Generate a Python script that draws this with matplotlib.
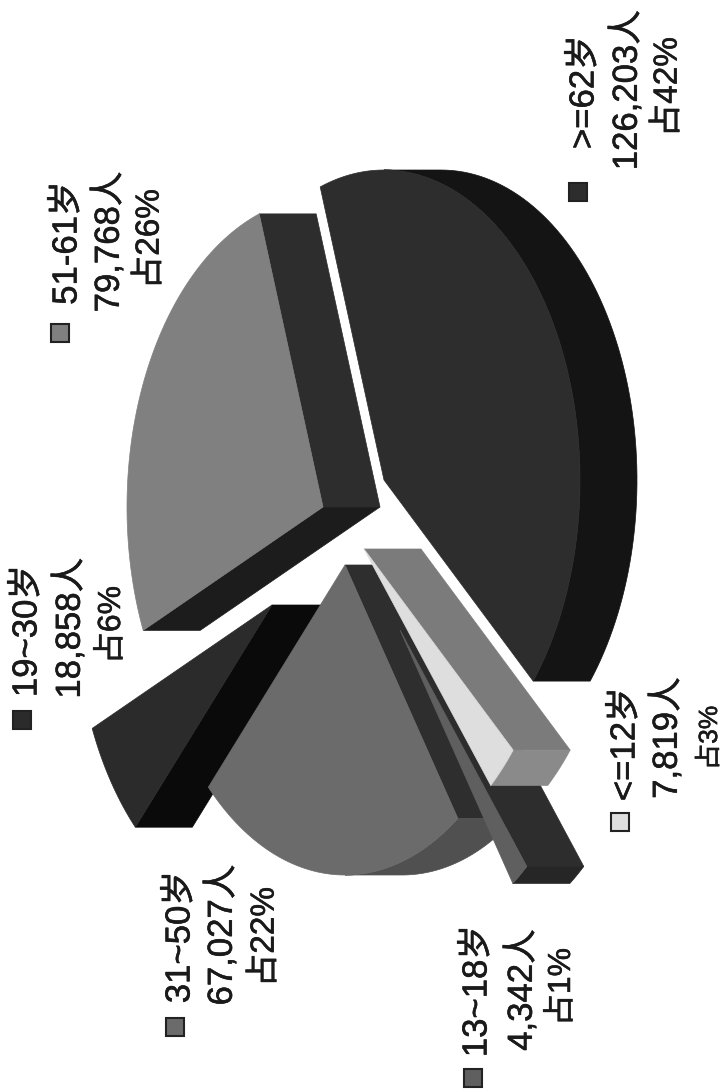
import numpy as np
import matplotlib
matplotlib.use("Agg")
import matplotlib.pyplot as plt
import matplotlib.patheffects as pe
from matplotlib.patches import Polygon, Rectangle

# dane
groups = [">=62岁", "<=12岁", "13~18岁", "31~50岁", "19~30岁", "51-61岁"]
people = [126203, 7819, 4342, 67027, 18858, 79768]
people_text = ["126,203人", "7,819人", "4,342人", "67,027人", "18,858人", "79,768人"]
share_text = ["占42%", "占3%", "占1%", "占22%", "占6%", "占26%"]

# wyglad kawalkow
tops = ["#2d2d2d", "#dedede", "#5f5f5f", "#6b6b6b", "#2b2b2b", "#808080"]
start_faces = ["#2d2d2d", "#7b7b7b", "#2d2d2d", "#2e2e2e", "#0a0a0a", "#1c1c1c"]
end_faces = ["#2d2d2d", "#7b7b7b", "#2d2d2d", "#2e2e2e", "#0a0a0a", "#2d2d2d"]
rims = ["#141414", "#8a8a8a", "#262626", "#505050", "#0a0a0a", "#1c1c1c"]
apex_x = [384, 364, 400, 345, 272, 323]
apex_y = [480, 549, 630, 565, 605, 507]
draw_order = [0, 5, 4, 3, 2, 1]

# polozenie legendy: kwadrat, trzy linie tekstu
square_xy = [(578, 192), (620, 822), (473, 1078), (175, 1027), (22, 720), (60, 333)]
line1_xy = [(584, 92), (625, 744), (477, 991), (180, 937), (27, 631), (67, 243)]
line2_xy = [(627, 90), (667, 738), (522, 990), (222, 935), (70, 628), (109, 242)]
line3_xy = [(668, 87), (710, 738), (562, 987), (265, 937), (112, 625), (150, 239)]
share_size = [24, 19, 23, 24, 23, 24]

RX = 196
RY = 310
DEPTH = 57
START = -109

font = ["Liberation Sans", "Noto Sans CJK SC", "DejaVu Sans"]
heavy = [pe.withStroke(linewidth=0.4, foreground="#1a1a1a")]


def pt(cx, cy, t):
    return cx + RX * np.cos(np.radians(t)), cy + RY * np.sin(np.radians(t))


fig = plt.figure(figsize=(7.28, 10.92), dpi=100)
ax = fig.add_axes([0, 0, 1, 1])
ax.set_xlim(0, 728)
ax.set_ylim(1092, 0)
ax.axis("off")

sweep = np.array(people) / sum(people) * 360
edges = START + np.concatenate([[0], np.cumsum(sweep)])

for i in draw_order:
    cx, cy = apex_x[i], apex_y[i]
    t0, t1 = edges[i], edges[i + 1]
    x0, y0 = pt(cx, cy, t0)
    x1, y1 = pt(cx, cy, t1)

    # sciany ciecia
    if np.sin(np.radians(t0)) > 0:
        ax.add_patch(Polygon([(cx, cy), (x0, y0), (x0 + DEPTH, y0), (cx + DEPTH, cy)],
                             fc=start_faces[i], ec=start_faces[i], lw=0.5))
    if np.sin(np.radians(t1)) < 0:
        ax.add_patch(Polygon([(cx, cy), (x1, y1), (x1 + DEPTH, y1), (cx + DEPTH, cy)],
                             fc=end_faces[i], ec=end_faces[i], lw=0.5))

    # bok, tylko czesc widoczna z prawej
    a = max(t0, -90)
    b = min(t1, 90)
    if b > a:
        ts = np.linspace(a, b, 80)
        xs, ys = pt(cx, cy, ts)
        rim = list(zip(xs, ys)) + list(zip(xs[::-1] + DEPTH, ys[::-1]))
        ax.add_patch(Polygon(rim, fc=rims[i], ec=rims[i], lw=0.5))

    ts = np.linspace(t0, t1, 120)
    xs, ys = pt(cx, cy, ts)
    ax.add_patch(Polygon([(cx, cy)] + list(zip(xs, ys)), fc=tops[i], ec=tops[i], lw=0.5))

for i in range(len(groups)):
    sx, sy = square_xy[i]
    ax.add_patch(Rectangle((sx - 9, sy - 9), 18, 18, fc=tops[i], ec="#222222", lw=1.5))
    ax.text(*line1_xy[i], groups[i], rotation=90, ha="center", va="center",
            fontsize=25, family=font, color="#1a1a1a", path_effects=heavy)
    ax.text(*line2_xy[i], people_text[i], rotation=90, ha="center", va="center",
            fontsize=25, family=font, color="#1a1a1a", path_effects=heavy)
    ax.text(*line3_xy[i], share_text[i], rotation=90, ha="center", va="center",
            fontsize=share_size[i], family=font, color="#1a1a1a", path_effects=heavy)

fig.savefig("out.png", dpi=100, facecolor="white")
